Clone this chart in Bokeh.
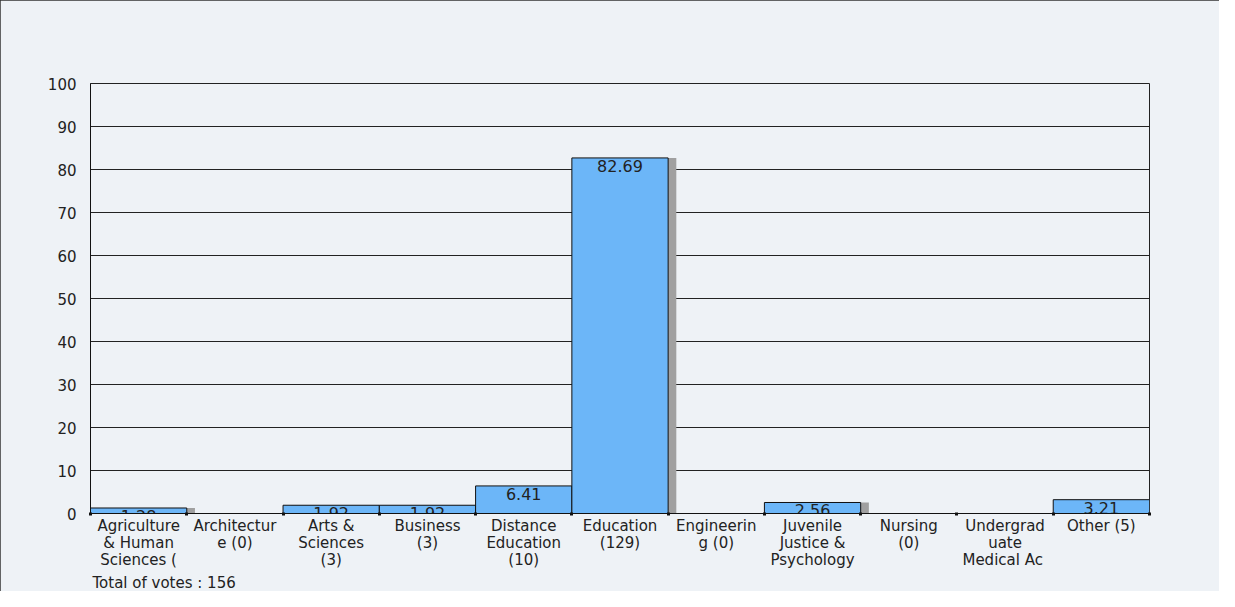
from bokeh.plotting import figure
from bokeh.models import FixedTicker, Title, ColumnDataSource
from bokeh.embed import file_html
from bokeh.resources import INLINE
from bokeh.core.properties import value

categories = [
    "Agriculture\n& Human\nSciences (",
    "Architectur\ne (0)",
    "Arts &\nSciences\n(3)",
    "Business\n(3)",
    "Distance\nEducation\n(10)",
    "Education\n(129)",
    "Engineerin\ng (0)",
    "Juvenile\nJustice &\nPsychology",
    "Nursing\n(0)",
    "Undergrad\nuate\nMedical  Ac",
    "Other (5)",
]
votes = [2, 0, 3, 3, 10, 129, 0, 4, 0, 0, 5]
percents = [1.28, 0, 1.92, 1.92, 6.41, 82.69, 0, 2.56, 0, 0, 3.21]
total_votes = 156
y_ticks = [0, 10, 20, 30, 40, 50, 60, 70, 80, 90, 100]

FONT = "DejaVu Sans"
BG = "#EEF2F6"
BAR = "#6CB6F8"
SHADOW = "#A0A0A0"
TXT = "#222222"

n = len(categories)
centers = [i + 0.5 for i in range(n)]
bounds = list(range(n + 1))

p = figure(width=1219, height=591, x_range=(0, n), y_range=(0, 100),
           output_backend="svg", toolbar_location=None,
           min_border_left=90, min_border_right=70, min_border_top=83, min_border_bottom=66)
p.styles = {"outline": "1px solid #333333", "outline-offset": "-1px"}
p.background_fill_color = BG
p.border_fill_color = BG
p.outline_line_color = "#222222"
p.outline_line_width = 1

src = ColumnDataSource(dict(
    x=centers,
    xs=[c + 0.085 for c in centers],
    top=percents,
    lab=[("%.2f" % v) if v > 0 else "" for v in percents],
))

p.vbar(x="xs", top="top", width=1, source=src, fill_color=SHADOW, line_color=None)
p.vbar(x="x", top="top", width=1, source=src, fill_color=BAR, line_color="#111111", line_width=1)
p.text(x="x", y="top", text="lab", source=src, text_align="center", text_baseline="top",
       y_offset=2, text_font=value(FONT), text_font_size="16px", text_color=TXT)

# grid
p.xgrid.visible = False
p.ygrid.ticker = FixedTicker(ticks=y_ticks)
p.ygrid.grid_line_color = "#222222"
p.ygrid.grid_line_alpha = 1

# y axis
p.yaxis.ticker = FixedTicker(ticks=y_ticks)
p.yaxis.major_tick_line_color = None
p.yaxis.minor_tick_line_color = None
p.yaxis.axis_line_color = "#111111"
p.yaxis.major_label_text_baseline = "top"
p.yaxis.major_label_standoff = 8
p.yaxis.major_label_text_font = FONT
p.yaxis.major_label_text_font_size = "15px"
p.yaxis.major_label_text_color = TXT

# x axis
p.xaxis.ticker = FixedTicker(ticks=centers, minor_ticks=bounds)
p.xaxis.major_label_overrides = {c: categories[i] for i, c in enumerate(centers)}
p.xaxis.major_tick_line_color = None
p.xaxis.major_tick_out = 0
p.xaxis.major_tick_in = 0
p.xaxis.minor_tick_line_color = "#111111"
p.xaxis.minor_tick_line_width = 3
p.xaxis.minor_tick_in = 1
p.xaxis.minor_tick_out = 2
p.xaxis.axis_line_color = "#111111"
p.xaxis.axis_label_standoff = 0
p.xaxis.major_label_standoff = 1
p.xaxis.major_label_text_font = FONT
p.xaxis.major_label_text_font_size = "15px"
p.xaxis.major_label_text_color = TXT
p.xaxis.major_label_text_line_height = 0.95

p.add_layout(Title(text="Total of votes : %d" % total_votes, align="left", offset=2,
                   standoff=0, text_font=FONT, text_font_size="15px", text_line_height=0.9,
                   text_font_style="normal", text_color=TXT), "below")

open("out.html", "w").write(file_html(p, INLINE))
